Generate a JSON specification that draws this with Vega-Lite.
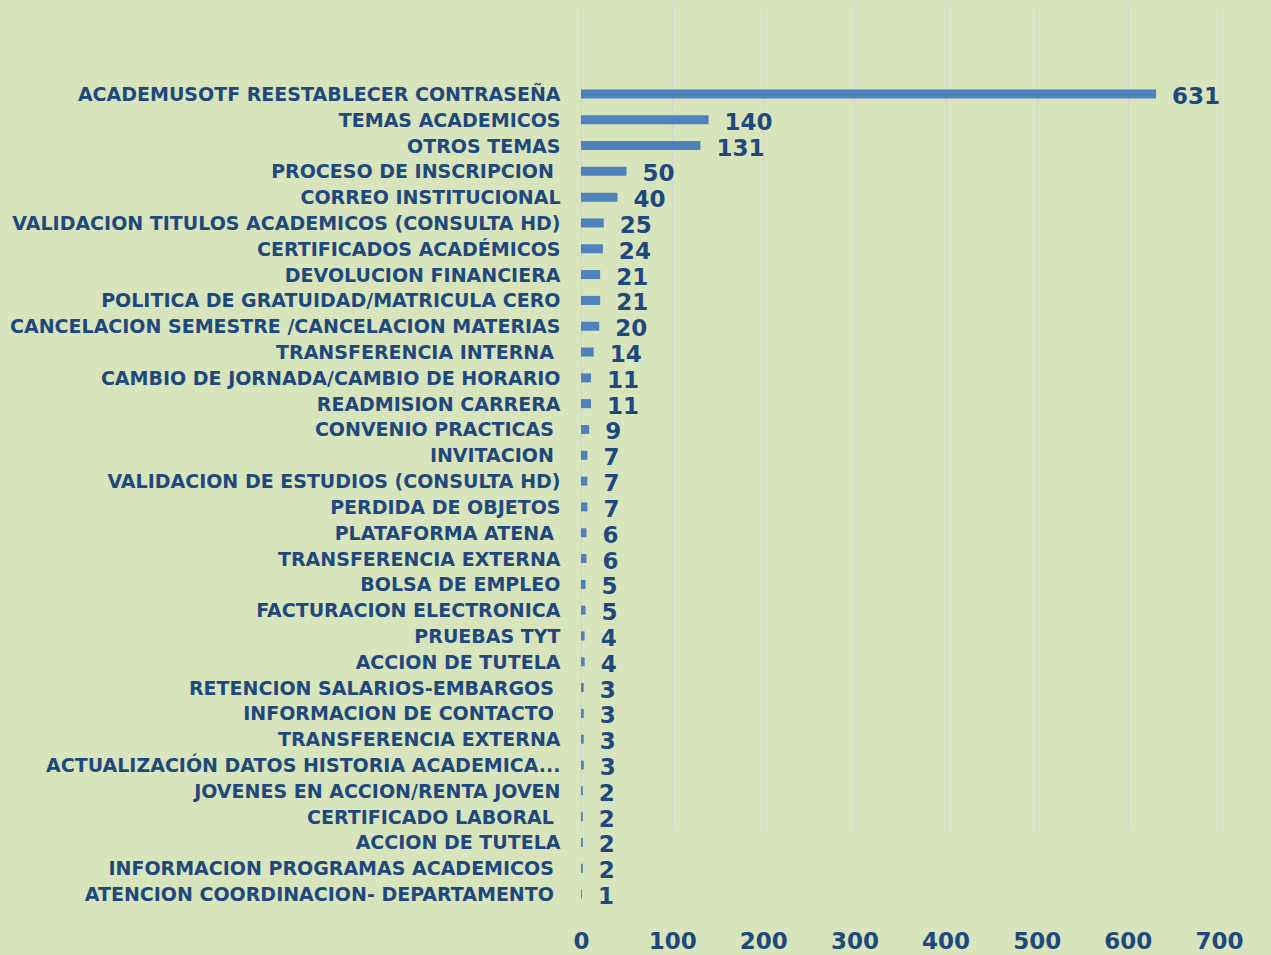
{
  "$schema": "https://vega.github.io/schema/vega-lite/v6.json",
  "width": 638,
  "height": 902,
  "autosize": {"type": "none"},
  "padding": {"left": 581, "top": 5, "right": 52, "bottom": 48},
  "background": "#d8e4bc",
  "config": {
    "view": {"stroke": null},
    "font": "DejaVu Sans"
  },
  "data": {
    "values": [
      {"tema": "ACADEMUSOTF REESTABLECER CONTRASEÑA", "n": 631},
      {"tema": "TEMAS ACADEMICOS", "n": 140},
      {"tema": "OTROS TEMAS", "n": 131},
      {"tema": "PROCESO DE INSCRIPCION\u00a0\u200b", "n": 50},
      {"tema": "CORREO INSTITUCIONAL", "n": 40},
      {"tema": "VALIDACION TITULOS ACADEMICOS (CONSULTA HD)", "n": 25},
      {"tema": "CERTIFICADOS ACADÉMICOS", "n": 24},
      {"tema": "DEVOLUCION FINANCIERA", "n": 21},
      {"tema": "POLITICA DE GRATUIDAD/MATRICULA CERO", "n": 21},
      {"tema": "CANCELACION SEMESTRE /CANCELACION MATERIAS", "n": 20},
      {"tema": "TRANSFERENCIA INTERNA\u00a0\u200b", "n": 14},
      {"tema": "CAMBIO DE JORNADA/CAMBIO DE HORARIO", "n": 11},
      {"tema": "READMISION CARRERA", "n": 11},
      {"tema": "CONVENIO PRACTICAS\u00a0\u200b", "n": 9},
      {"tema": "INVITACION\u00a0\u200b", "n": 7},
      {"tema": "VALIDACION DE ESTUDIOS (CONSULTA HD)", "n": 7},
      {"tema": "PERDIDA DE OBJETOS", "n": 7},
      {"tema": "PLATAFORMA ATENA\u00a0\u200b", "n": 6},
      {"tema": "TRANSFERENCIA EXTERNA", "n": 6},
      {"tema": "BOLSA DE EMPLEO", "n": 5},
      {"tema": "FACTURACION ELECTRONICA", "n": 5},
      {"tema": "PRUEBAS TYT", "n": 4},
      {"tema": "ACCION DE TUTELA", "n": 4},
      {"tema": "RETENCION SALARIOS-EMBARGOS\u00a0\u200b", "n": 3},
      {"tema": "INFORMACION DE CONTACTO\u00a0\u200b", "n": 3},
      {"tema": "TRANSFERENCIA EXTERNA\u200b", "n": 3},
      {"tema": "ACTUALIZACIÓN DATOS HISTORIA ACADEMICA...", "n": 3},
      {"tema": "JOVENES EN ACCION/RENTA JOVEN", "n": 2},
      {"tema": "CERTIFICADO LABORAL\u00a0\u200b", "n": 2},
      {"tema": "ACCION DE TUTELA\u200b", "n": 2},
      {"tema": "INFORMACION PROGRAMAS ACADEMICOS\u00a0\u200b", "n": 2},
      {"tema": "ATENCION COORDINACION- DEPARTAMENTO\u00a0\u200b", "n": 1}
    ]
  },
  "encoding": {
    "y": {
      "field": "tema",
      "type": "nominal",
      "sort": null,
      "scale": {"range": [76, 902], "paddingInner": 0, "paddingOuter": 0},
      "axis": {
        "title": null,
        "domain": false,
        "ticks": false,
        "labelPadding": 21,
        "labelOffset": 1,
        "labelFontSize": 19,
        "labelFontWeight": "bold",
        "labelColor": "#1f497d",
        "labelLimit": 0
      }
    },
    "x": {
      "field": "n",
      "type": "quantitative",
      "scale": {"domain": [0, 700], "nice": false},
      "axis": {
        "title": null,
        "values": [0, 100, 200, 300, 400, 500, 600, 700],
        "domain": false,
        "ticks": false,
        "grid": true,
        "gridColor": "#d4d4d4",
        "gridWidth": 1.5,
        "labelPadding": 23,
        "labelFontSize": 23,
        "labelFontWeight": "bold",
        "labelColor": "#1f497d",
        "labelFlush": false
      }
    }
  },
  "layer": [
    {
      "mark": {"type": "bar", "size": 9, "color": "#4f81bd"}
    },
    {
      "mark": {
        "type": "text",
        "align": "left",
        "baseline": "middle",
        "dx": 16,
        "dy": 3,
        "fontSize": 23,
        "fontWeight": "bold",
        "color": "#1f497d"
      },
      "encoding": {"text": {"field": "n", "type": "quantitative"}}
    }
  ]
}
